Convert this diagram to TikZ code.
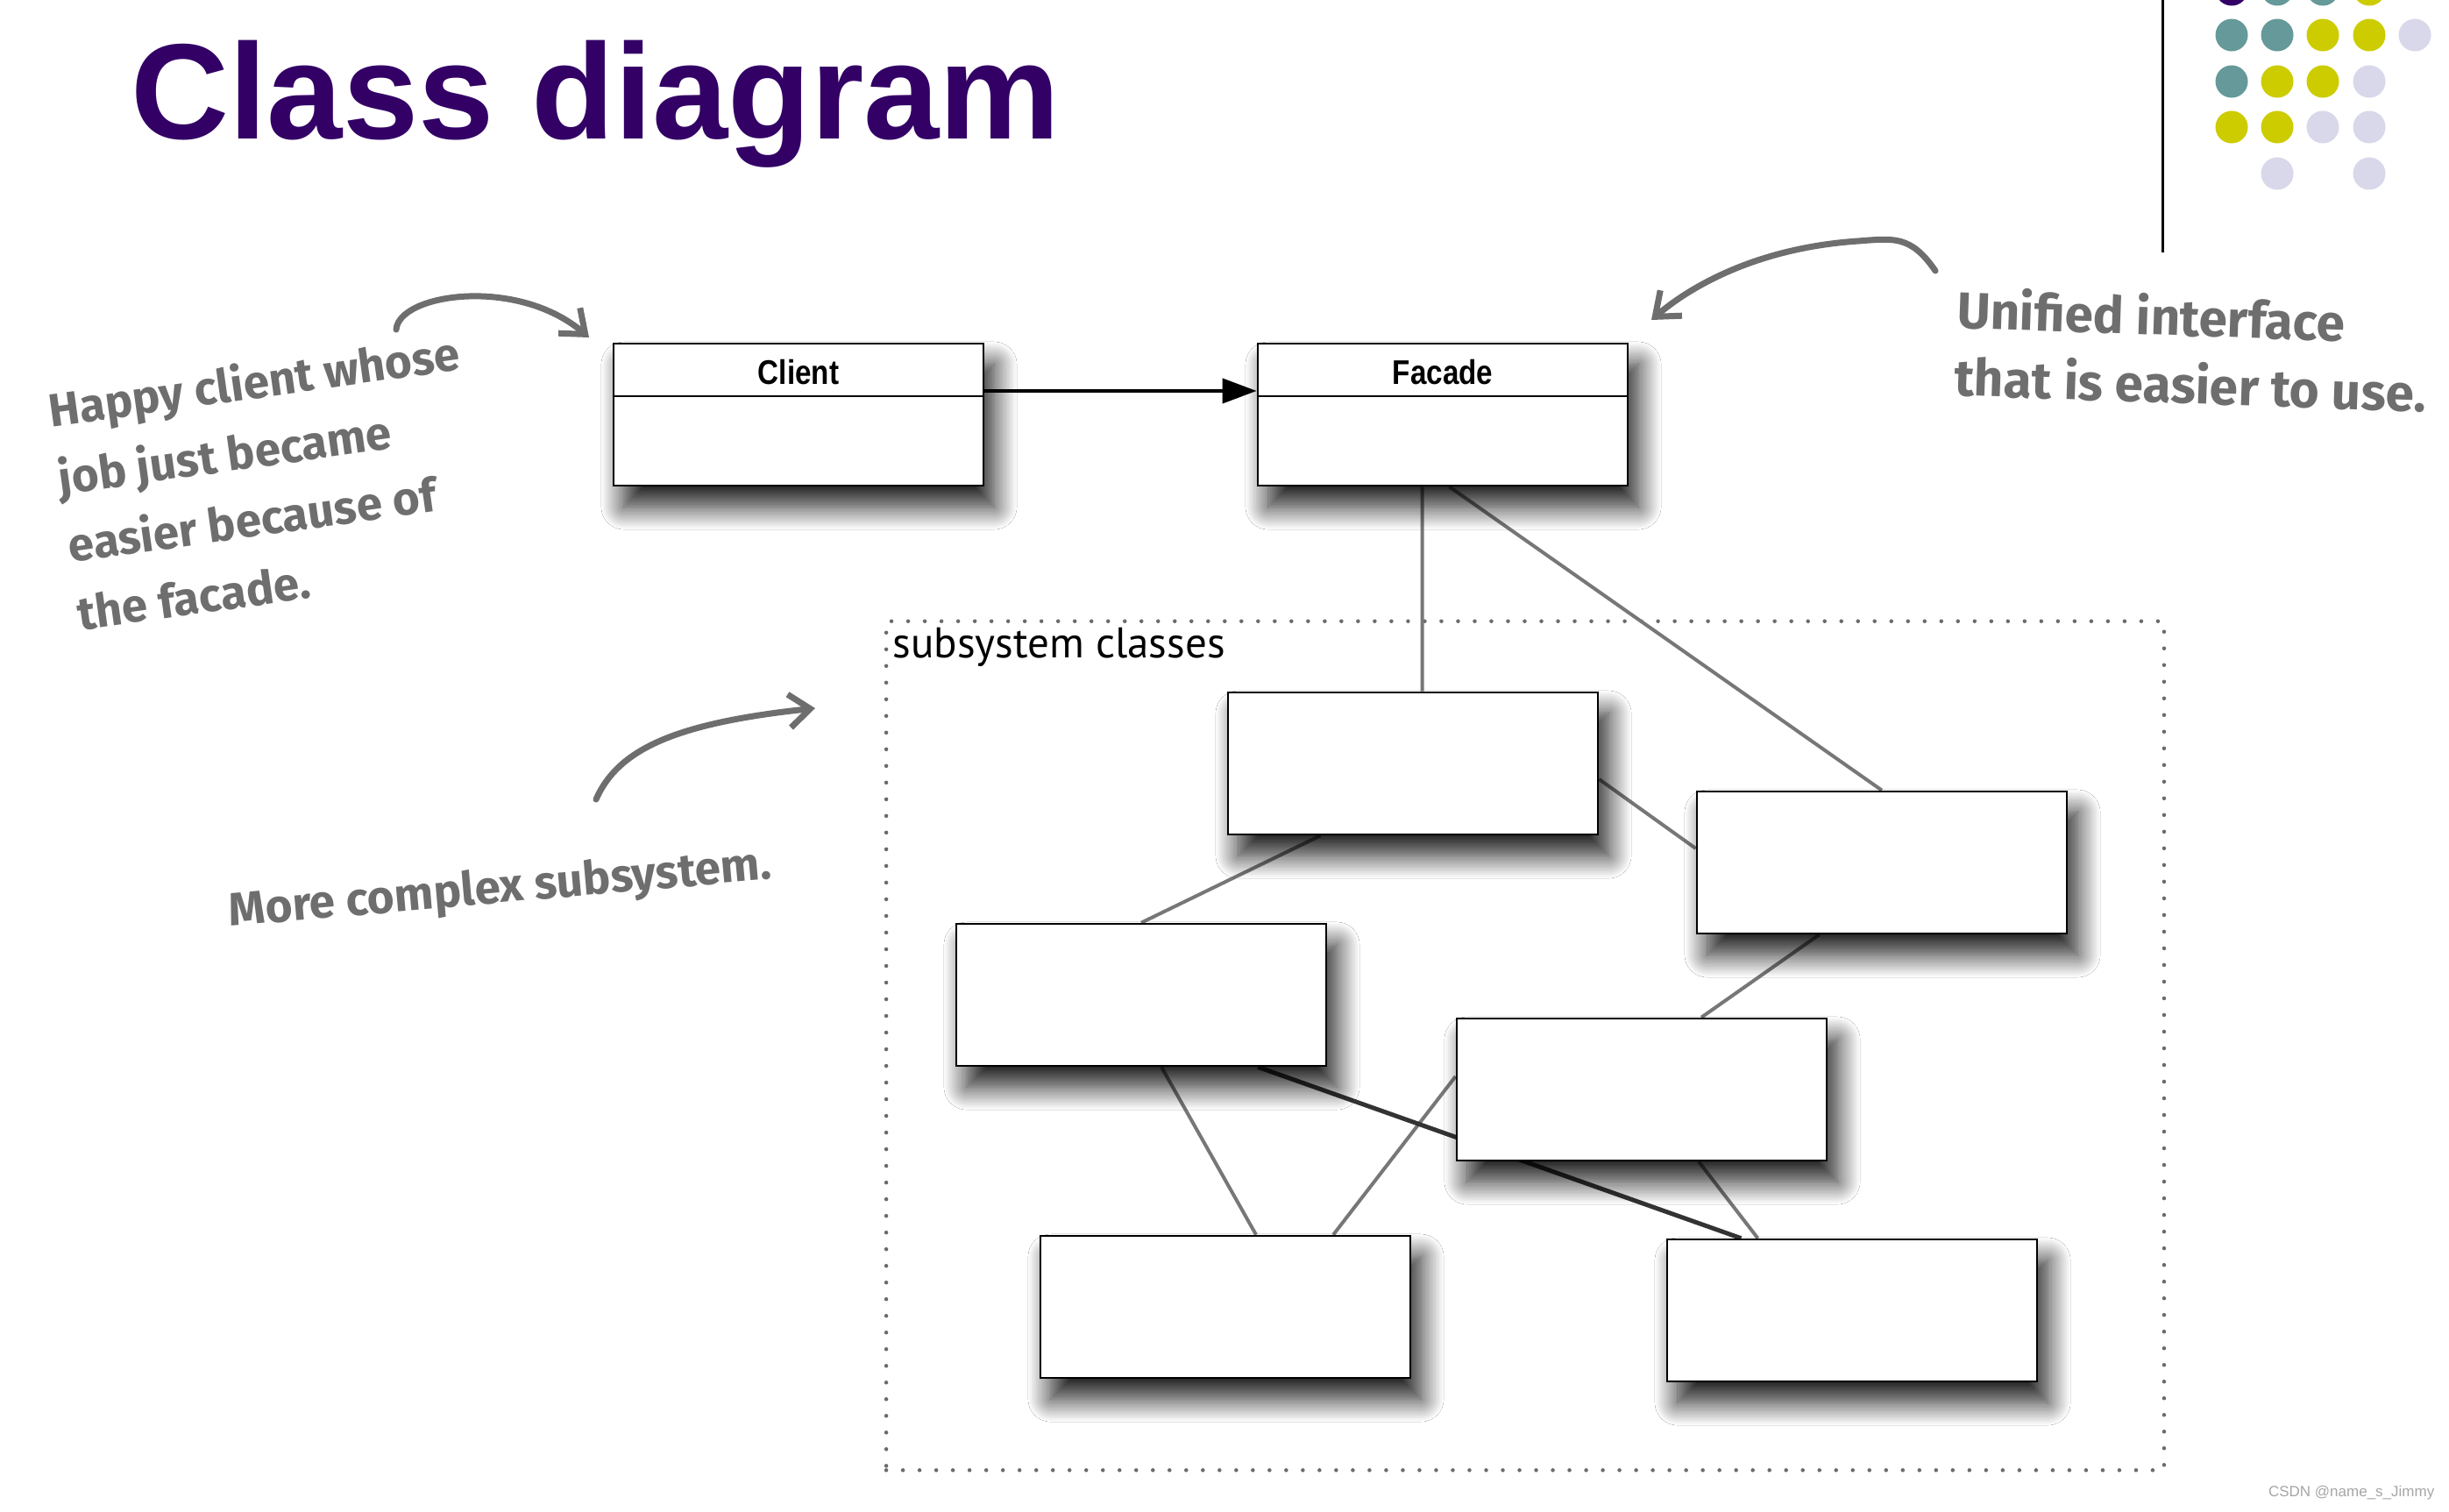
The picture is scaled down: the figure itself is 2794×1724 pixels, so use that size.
\documentclass[tikz,border=0pt]{standalone}
\usepackage{fontspec}
\setmainfont{Liberation Sans}
\newfontfamily\titlefont{Liberation Sans}
\newfontfamily\umlfont[FakeStretch=0.85]{Liberation Sans}
\newfontfamily\labelfont{PT Sans}
\newfontfamily\notefont{Fira Sans}
\usepackage{xcolor}
\usepackage{tikz}
\definecolor{titlepurple}{HTML}{330066}
\definecolor{dotteal}{HTML}{669999}
\definecolor{dotyellow}{HTML}{CCCC00}
\definecolor{dotlavender}{HTML}{D8D8EA}
\definecolor{notegray}{HTML}{6E6E6E}
\definecolor{linegray}{HTML}{777777}
\definecolor{darkline}{HTML}{333333}
\usetikzlibrary{arrows.meta}
\usetikzlibrary{positioning}
\usetikzlibrary{shadows.blur}
\usetikzlibrary{backgrounds}

\tikzset{
	classbox/.style={draw=black, line width=0.025cm, fill=white, minimum width=4.22cm, minimum height=1.62cm, inner sep=0pt,
		blur shadow={shadow xshift=0.12cm, shadow yshift=-0.24cm, shadow blur radius=0.26cm, shadow blur steps=20, shadow opacity=90}},
	classname/.style={minimum height=0.6cm, inner sep=0pt, font=\umlfont\bfseries\fontsize{0.39cm}{0.45cm}\selectfont},
	link/.style={draw=linegray, line width=0.04cm},
	darklink/.style={draw=darkline, line width=0.05cm},
	note/.style={text=notegray, align=left, inner sep=0pt, font=\notefont\bfseries\fontsize{0.53cm}{0.78cm}\selectfont},
	pointer/.style={draw=notegray, line width=0.07cm, line cap=round, -{Straight Barb[length=0.24cm, width=0.38cm]}},
	dot/.style={radius=0.185cm}
}

\begin{document}
\begin{tikzpicture}[x=0.01cm, y=-0.01cm]
		\useasboundingbox (0,0) rectangle (2794,1724);

		%Titel
		\node[anchor=base west, inner sep=0pt, text=titlepurple, font=\titlefont\bfseries\fontsize{1.55cm}{1.8cm}\selectfont] (title) at (149,158) {Class diagram};

		%Punkte oben rechts
		\draw [line width=0.03cm] (2467,0) -- (2467,288);
		\fill[titlepurple] (2546,-12) circle[dot];
		\fill[dotteal] (2598,-12) circle[dot] (2650,-12) circle[dot] (2546,40) circle[dot] (2598,40) circle[dot] (2546,93) circle[dot];
		\fill[dotyellow] (2703,-12) circle[dot] (2650,40) circle[dot] (2703,40) circle[dot] (2598,93) circle[dot] (2650,93) circle[dot] (2546,145) circle[dot] (2598,145) circle[dot];
		\fill[dotlavender] (2755,40) circle[dot] (2703,93) circle[dot] (2650,145) circle[dot] (2703,145) circle[dot] (2598,198) circle[dot] (2703,198) circle[dot];

		%Client und Facade
		\node[classbox] (client) at (911,473) {};
		\node[classname, below=0pt of client.north, yshift=-0.03cm] (clientname) {Client};
		\draw [line width=0.025cm] ([yshift=0.03cm]clientname.south -| client.west) -- ([yshift=0.03cm]clientname.south -| client.east);

		\node[classbox] (facade) at (1646,473) {};
		\node[classname, below=0pt of facade.north, yshift=-0.03cm] (facadename) {Facade};
		\draw [line width=0.025cm] ([yshift=0.03cm]facadename.south -| facade.west) -- ([yshift=0.03cm]facadename.south -| facade.east);

		\draw [line width=0.04cm, -{Triangle[length=0.39cm, width=0.28cm]}] ([yshift=0.27cm]client.east) -- ([yshift=0.27cm]facade.west);

		%Subsystem
		\node[classbox] (sa) at (1612,871) {};
		\node[classbox] (sb) at (2147,984) {};
		\node[classbox] (sc) at (1302,1135) {};
		\node[classbox] (sd) at (1873,1243) {};
		\node[classbox] (se) at (1398,1491) {};
		\node[classbox] (sf) at (2113,1495) {};

		\begin{scope}[on background layer]
			\fill[white] (0,0) rectangle (2794,1724);
			%Rahmen
			\node[draw=linegray!90!black, line width=0.045cm, dash pattern=on 0cm off 0.19cm, line cap=round, minimum width=14.57cm, minimum height=9.68cm, inner sep=0pt] (subsys) at (1740,1193) {};
			\node[anchor=north west, inner sep=0.09cm, font=\labelfont\fontsize{0.49cm}{0.55cm}\selectfont] (subsyslabel) at (subsys.north west) {subsystem classes};

			%Verbindungen
			\draw[link] ([xshift=-0.235cm]facade.south) -- ([xshift=0.105cm]sa.north);
			\draw[link] ([xshift=0.075cm]facade.south) -- (sb.north);
			\draw[link] ([xshift=-1.055cm]sa.south) -- (sc.north);
			\draw[link] ([yshift=-0.18cm]sa.east) -- ([yshift=0.16cm]sb.west);
			\draw[link] ([xshift=-0.715cm]sb.south) -- ([xshift=0.68cm]sd.north);
			\draw[link] ([xshift=0.23cm]sc.south) -- ([xshift=0.35cm]se.north);
			\draw[link] ([yshift=0.15cm]sd.west) -- ([xshift=1.23cm]se.north);
			\draw[darklink] ([xshift=1.33cm]sc.south) -- ([xshift=-1.265cm]sf.north);
			\draw[link] ([xshift=0.65cm]sd.south) -- ([xshift=-1.075cm]sf.north);
		\end{scope}

		%Notizen
		\node[note, rotate=8, anchor=north west] (happynote) at (52,444) {Happy client whose\\job just became\\easier because of\\the facade.};
		\node[note, rotate=-2, anchor=north west, font=\notefont\bfseries\fontsize{0.585cm}{0.77cm}\selectfont] (unifiednote) at (2233,326) {Unified interface\\that is easier to use.};
		\node[note, rotate=5, anchor=base west] (morenote) at (262,1057) {More complex subsystem.};

		%Pfeile
		\coordinate (happytail) at (452,376);
		\coordinate (happyhead) at (672,385);
		\draw[pointer] (happytail) .. controls (455,335) and (590,315) .. (happyhead);
		\coordinate (unifiedtail) at (2208,309);
		\coordinate (unifiedhead) at (1884,365);
		\draw[pointer] (unifiedtail) .. controls (2180,268) and (2160,272) .. (2120,275) .. controls (2000,283) and (1925,330) .. (unifiedhead);
		\coordinate (moretail) at (680,912);
		\coordinate (morehead) at (930,808);
		\draw[pointer] (moretail) .. controls (705,855) and (770,825) .. (morehead);

		%Wasserzeichen
		\node[anchor=base east, inner sep=0pt, text=gray!70, font=\fontsize{0.17cm}{0.2cm}\selectfont] (csdnmark) at (2778,1707) {CSDN @name\_s\_Jimmy};
\end{tikzpicture}
\end{document}
